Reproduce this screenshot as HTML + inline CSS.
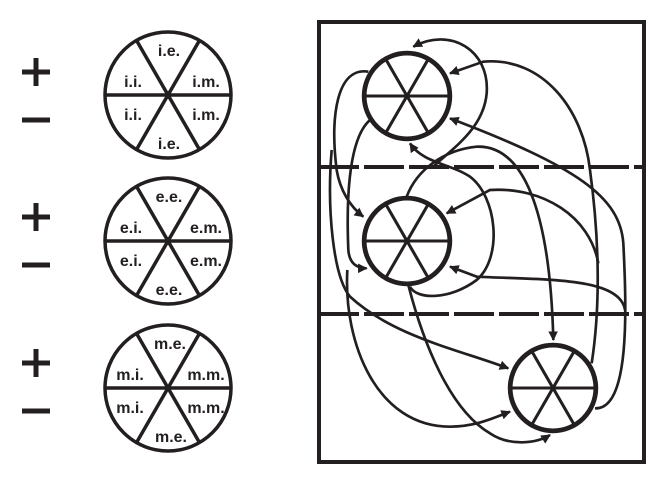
<!DOCTYPE html>
<html><head><style>html,body{margin:0;padding:0;background:#fff}svg{display:block}</style></head>
<body>
<svg width="668" height="477" viewBox="0 0 668 477" xmlns="http://www.w3.org/2000/svg">
<defs>
<marker id="a" viewBox="0 0 10 10" refX="9" refY="5" markerWidth="3.6" markerHeight="3.6" markerUnits="strokeWidth" orient="auto"><path d="M0,0 L10,5 L0,10 z" fill="#231f20"/></marker>
<g id="wheel"><circle r="63" fill="none" stroke="#231f20" stroke-width="3.5"/>
<line x1="-63" y1="0" x2="63" y2="0" stroke="#231f20" stroke-width="3.5"/>
<line x1="-31.5" y1="-54.6" x2="31.5" y2="54.6" stroke="#231f20" stroke-width="3.5"/>
<line x1="31.5" y1="-54.6" x2="-31.5" y2="54.6" stroke="#231f20" stroke-width="3.5"/></g>
<g id="pm" fill="#231f20"><rect x="-14" y="-2.5" width="28" height="5"/><rect x="-2.5" y="-14" width="5" height="28"/><rect x="-14" y="45.5" width="28" height="5"/></g>
<g id="w2"><circle r="63" fill="#fff" stroke="#231f20" stroke-width="7"/><line x1="-63" y1="0" x2="63" y2="0" stroke="#231f20" stroke-width="4.5"/><line x1="-31.5" y1="-54.6" x2="31.5" y2="54.6" stroke="#231f20" stroke-width="4.5"/><line x1="31.5" y1="-54.6" x2="-31.5" y2="54.6" stroke="#231f20" stroke-width="4.5"/></g>
</defs>
<use href="#pm" x="36" y="72"/><use href="#pm" x="36" y="217"/><use href="#pm" x="36" y="363"/>
<g font-family="Liberation Sans, sans-serif" font-weight="bold" font-size="16" fill="#231f20" text-anchor="middle">
<use href="#wheel" x="168" y="95"/>
<text x="169" y="56">i.e.</text><text x="133" y="87">i.i.</text><text x="206" y="87">i.m.</text>
<text x="133" y="120">i.i.</text><text x="206" y="120">i.m.</text><text x="169" y="149">i.e.</text>
<use href="#wheel" x="168" y="241"/>
<text x="169" y="202">e.e.</text><text x="131" y="233">e.i.</text><text x="206" y="233">e.m.</text>
<text x="131" y="266">e.i.</text><text x="206" y="266">e.m.</text><text x="169" y="295">e.e.</text>
<use href="#wheel" x="168" y="388"/>
<text x="170" y="349">m.e.</text><text x="130" y="380">m.i.</text><text x="206" y="380">m.m.</text>
<text x="130" y="413">m.i.</text><text x="206" y="413">m.m.</text><text x="171" y="442">m.e.</text>
</g>
<rect x="319" y="22" width="325" height="440" fill="none" stroke="#231f20" stroke-width="4"/>
<line x1="319" y1="167" x2="644" y2="167" stroke="#231f20" stroke-width="4" stroke-dasharray="40,5"/>
<line x1="319" y1="314" x2="644" y2="314" stroke="#231f20" stroke-width="4" stroke-dasharray="40,5"/>
<g transform="translate(407,96) scale(0.68)"><use href="#w2"/></g>
<g transform="translate(407,241) scale(0.68)"><use href="#w2"/></g>
<g transform="translate(553,388) scale(0.68)"><use href="#w2"/></g>
<g transform="translate(310,10) scale(0.33333)" fill="none" stroke="#231f20" stroke-width="8">
<path d="M370 470 C420 420,520 360,530 250 C540 120,420 50,310 110" marker-end="url(#a)"/>
<path d="M290 560 C320 480,400 420,500 410 C640 405,720 600,730 990" marker-end="url(#a)"/>
<path d="M300 830 C320 870,420 870,500 810 C580 740,560 560,480 500 C420 460,340 460,300 400" marker-end="url(#a)"/>
<path d="M845 1060 C870 900,870 700,840 480 C820 300,700 140,520 155 L420 190" marker-end="url(#a)"/>
<path d="M855 1195 C960 1200,950 900,940 700 C930 560,800 470,420 325" marker-end="url(#a)"/>
<path d="M865 760 C840 620,700 530,540 540 L410 610" marker-end="url(#a)"/>
<path d="M945 900 C930 800,700 810,500 800 L420 770" marker-end="url(#a)"/>
<path d="M175 185 C80 170,60 320,80 480 C90 540,120 590,160 620" marker-end="url(#a)"/>
<path d="M180 330 C110 390,110 600,115 720 C118 760,140 775,170 775" marker-end="url(#a)"/>
<path d="M65 420 C50 600,70 800,120 860 C250 980,450 1020,595 1075" marker-end="url(#a)"/>
<path d="M112 780 C100 1000,200 1250,420 1250 C500 1250,560 1220,600 1205" marker-end="url(#a)"/>
<path d="M295 825 C340 1000,420 1200,540 1270 C600 1310,680 1300,720 1275" marker-end="url(#a)"/>
</g>
</svg>
</body></html>
